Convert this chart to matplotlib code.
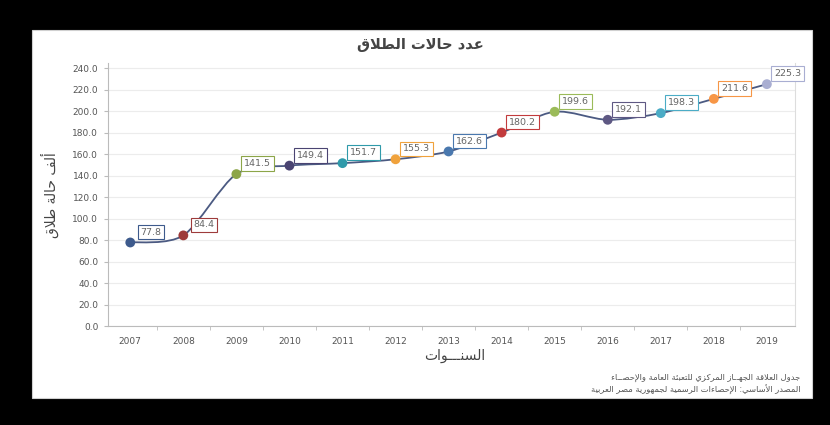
import matplotlib
matplotlib.use("Agg")
import matplotlib.pyplot as plt
from matplotlib.path import Path
from matplotlib.patches import PathPatch, Rectangle

years = ["2007", "2008", "2009", "2010", "2011", "2012", "2013",
         "2014", "2015", "2016", "2017", "2018", "2019"]
divorces = [77.8, 84.4, 141.5, 149.4, 151.7, 155.3, 162.6,
            180.2, 199.6, 192.1, 198.3, 211.6, 225.3]
point_colors = ["#3D5A8C", "#9E3B3B", "#8CA548", "#4A4472", "#2F9AAA", "#F0A23C",
                "#4A78AE", "#C23B3D", "#9BBB59", "#5E5883", "#4BACC6", "#F79646",
                "#A9AED2"]
yticks = [0, 20, 40, 60, 80, 100, 120, 140, 160, 180, 200, 220, 240]

title = "عدد حالات الطلاق"
ylabel = "ألف حالة طلاق"
xlabel = "السنـــوات"
source1 = "جدول العلاقة الجهــاز المركزي للتعبئة العامة والإحصــاء"
source2 = "المصدر الأساسي: الإحصاءات الرسمية لجمهورية مصر العربية"

# --- minimal Arabic shaping (matplotlib has no shaping / bidi) ---
FORMS = {
    "ء": (0xFE80,), "آ": (0xFE81, 0xFE82), "أ": (0xFE83, 0xFE84),
    "ؤ": (0xFE85, 0xFE86), "إ": (0xFE87, 0xFE88),
    "ئ": (0xFE89, 0xFE8A, 0xFE8B, 0xFE8C), "ا": (0xFE8D, 0xFE8E),
    "ب": (0xFE8F, 0xFE90, 0xFE91, 0xFE92), "ة": (0xFE93, 0xFE94),
    "ت": (0xFE95, 0xFE96, 0xFE97, 0xFE98), "ث": (0xFE99, 0xFE9A, 0xFE9B, 0xFE9C),
    "ج": (0xFE9D, 0xFE9E, 0xFE9F, 0xFEA0), "ح": (0xFEA1, 0xFEA2, 0xFEA3, 0xFEA4),
    "خ": (0xFEA5, 0xFEA6, 0xFEA7, 0xFEA8), "د": (0xFEA9, 0xFEAA),
    "ذ": (0xFEAB, 0xFEAC), "ر": (0xFEAD, 0xFEAE), "ز": (0xFEAF, 0xFEB0),
    "س": (0xFEB1, 0xFEB2, 0xFEB3, 0xFEB4), "ش": (0xFEB5, 0xFEB6, 0xFEB7, 0xFEB8),
    "ص": (0xFEB9, 0xFEBA, 0xFEBB, 0xFEBC), "ض": (0xFEBD, 0xFEBE, 0xFEBF, 0xFEC0),
    "ط": (0xFEC1, 0xFEC2, 0xFEC3, 0xFEC4), "ظ": (0xFEC5, 0xFEC6, 0xFEC7, 0xFEC8),
    "ع": (0xFEC9, 0xFECA, 0xFECB, 0xFECC), "غ": (0xFECD, 0xFECE, 0xFECF, 0xFED0),
    "ف": (0xFED1, 0xFED2, 0xFED3, 0xFED4), "ق": (0xFED5, 0xFED6, 0xFED7, 0xFED8),
    "ك": (0xFED9, 0xFEDA, 0xFEDB, 0xFEDC), "ل": (0xFEDD, 0xFEDE, 0xFEDF, 0xFEE0),
    "م": (0xFEE1, 0xFEE2, 0xFEE3, 0xFEE4), "ن": (0xFEE5, 0xFEE6, 0xFEE7, 0xFEE8),
    "ه": (0xFEE9, 0xFEEA, 0xFEEB, 0xFEEC), "و": (0xFEED, 0xFEEE),
    "ى": (0xFEEF, 0xFEF0), "ي": (0xFEF1, 0xFEF2, 0xFEF3, 0xFEF4),
    "ـ": (0x0640, 0x0640, 0x0640, 0x0640),
}
LAMALEF = {"ا": (0xFEFB, 0xFEFC), "أ": (0xFEF7, 0xFEF8),
           "إ": (0xFEF9, 0xFEFA), "آ": (0xFEF5, 0xFEF6)}


def dual(c):
    return c in FORMS and len(FORMS[c]) == 4


def shape(text):
    chars = list(text)
    out = []
    i = 0
    while i < len(chars):
        c = chars[i]
        prev = chars[i - 1] if i > 0 else ""
        joins_prev = dual(prev) and c in FORMS and len(FORMS[c]) > 1
        if c == "ل" and i + 1 < len(chars) and chars[i + 1] in LAMALEF:
            out.append(chr(LAMALEF[chars[i + 1]][1 if joins_prev else 0]))
            i += 2
            continue
        if c not in FORMS:
            out.append(c)
            i += 1
            continue
        f = FORMS[c]
        nxt = chars[i + 1] if i + 1 < len(chars) else ""
        joins_next = dual(c) and nxt in FORMS
        if joins_prev and joins_next:
            out.append(chr(f[3]))
        elif joins_prev:
            out.append(chr(f[1]))
        elif joins_next:
            out.append(chr(f[2]))
        else:
            out.append(chr(f[0]))
        i += 1
    return "".join(reversed(out))


fig = plt.figure(figsize=(8.3, 4.25), dpi=100, facecolor="black")
fig.patches.append(Rectangle((32 / 830, 1 - 398 / 425), 780 / 830, 368 / 425,
                             transform=fig.transFigure, facecolor="white",
                             edgecolor="#d0d0d0", lw=0.8, zorder=-5))

ax = fig.add_axes([108 / 830, 1 - 326 / 425, 687 / 830, 263 / 425])
ax.set_facecolor("white")
x = list(range(len(years)))
ax.set_xlim(-0.42, len(years) - 0.47)
ax.set_ylim(0, 245)
ax.set_yticks(yticks)
ax.set_yticklabels([f"{v:.1f}" for v in yticks], fontsize=6.5, color="#555555")
ax.set_xticks(x)
ax.set_xticklabels(years, fontsize=6.5, color="#555555")
ax.tick_params(axis="x", length=0, pad=8)
ax.tick_params(axis="y", length=3, color="#bbbbbb", pad=4)
ax.set_xticks([i + 0.5 for i in x[:-1]], minor=True)
ax.tick_params(axis="x", which="minor", length=3, color="#bbbbbb")
ax.grid(axis="y", color="#ececec", lw=0.8)
ax.set_axisbelow(True)
ax.spines["top"].set_visible(False)
ax.spines["right"].set_color("#dddddd")
ax.spines["left"].set_color("#bbbbbb")
ax.spines["bottom"].set_color("#bbbbbb")

# smooth line (cubic Bezier through the points, Catmull-Rom style)
verts = [(x[0], divorces[0])]
codes = [Path.MOVETO]
n = len(x)
t = 1 / 7
for i in range(n - 1):
    p0 = (x[max(i - 1, 0)], divorces[max(i - 1, 0)])
    p1 = (x[i], divorces[i])
    p2 = (x[i + 1], divorces[i + 1])
    p3 = (x[min(i + 2, n - 1)], divorces[min(i + 2, n - 1)])
    c1 = (p1[0] + (p2[0] - p0[0]) * t, p1[1] + (p2[1] - p0[1]) * t)
    c2 = (p2[0] - (p3[0] - p1[0]) * t, p2[1] - (p3[1] - p1[1]) * t)
    verts += [c1, c2, p2]
    codes += [Path.CURVE4] * 3
ax.add_patch(PathPatch(Path(verts, codes), facecolor="none",
                       edgecolor="#4B5A82", lw=1.3, zorder=3))

ax.scatter(x, divorces, s=50, c=point_colors, zorder=4, edgecolors="none")
for xi, v, col in zip(x, divorces, point_colors):
    ax.annotate(f"{v:.1f}", (xi, v), xytext=(15, 7.5), textcoords="offset points",
                ha="center", va="center", fontsize=6.8, color="#666666", zorder=5,
                annotation_clip=False,
                bbox=dict(boxstyle="square,pad=0.3", fc="white", ec=col, lw=0.8))

fig.text(420 / 830, 1 - 44 / 425, shape(title), ha="center", va="center",
         fontsize=10.5, fontweight="bold", color="#444444")
fig.text(50 / 830, 1 - 195 / 425, shape(ylabel), ha="center", va="center",
         rotation=90, fontsize=10, color="#444444")
fig.text(455 / 830, 1 - 356 / 425, shape(xlabel), ha="center", va="center",
         fontsize=10, color="#444444")
fig.text(800 / 830, 1 - 377 / 425, shape(source1), ha="right", va="center",
         fontsize=6, color="#555555")
fig.text(800 / 830, 1 - 390 / 425, shape(source2), ha="right", va="center",
         fontsize=6, color="#555555")

fig.savefig("out.png", dpi=100, facecolor="black")
